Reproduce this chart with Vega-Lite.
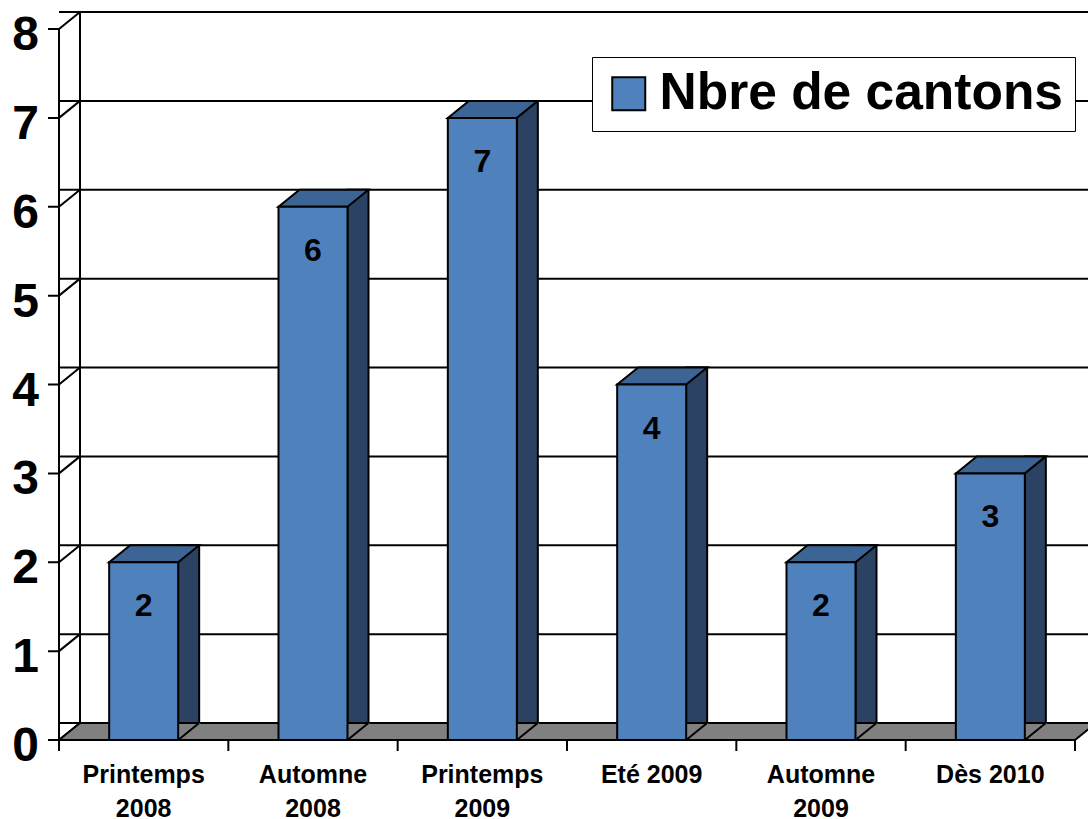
{
  "$schema": "https://vega.github.io/schema/vega-lite/v6.json",
  "width": 1016,
  "height": 711,
  "autosize": "none",
  "padding": {"left": 59, "top": 29, "right": 13, "bottom": 79},
  "background": "white",
  "config": {
    "view": {"stroke": null},
    "font": "Liberation Sans"
  },
  "datasets": {
    "graduations": [{"v": 0}, {"v": 1}, {"v": 2}, {"v": 3}, {"v": 4}, {"v": 5}, {"v": 6}, {"v": 7}, {"v": 8}]
  },
  "data": {
    "values": [
      {"periode": "Printemps 2008", "cantons": 2, "ligne1": "Printemps", "ligne2": "2008"},
      {"periode": "Automne 2008", "cantons": 6, "ligne1": "Automne", "ligne2": "2008"},
      {"periode": "Printemps 2009", "cantons": 7, "ligne1": "Printemps", "ligne2": "2009"},
      {"periode": "Eté 2009", "cantons": 4, "ligne1": "Eté 2009", "ligne2": ""},
      {"periode": "Automne 2009", "cantons": 2, "ligne1": "Automne", "ligne2": "2009"},
      {"periode": "Dès 2010", "cantons": 3, "ligne1": "Dès 2010", "ligne2": ""}
    ]
  },
  "layer": [
    {
      "mark": {"type": "bar", "width": {"band": 0.4075}, "opacity": 0},
      "encoding": {
        "x": {
          "field": "periode", "type": "nominal", "axis": null,
          "scale": {"domain": ["Printemps 2008", "Automne 2008", "Printemps 2009", "Eté 2009", "Automne 2009", "Dès 2010"], "paddingInner": 0, "paddingOuter": 0}
        },
        "y": {
          "field": "cantons", "type": "quantitative", "axis": null,
          "scale": {"domain": [0, 8], "nice": false}
        }
      }
    },
    {
      "data": {"name": "graduations"},
      "mark": {"type": "rule", "color": "black", "strokeWidth": 2, "xOffset": 21, "x2Offset": 21, "yOffset": -17},
      "encoding": {
        "y": {"field": "v", "type": "quantitative", "axis": null}
      }
    },
    {
      "data": {"values": [{"k": 1}]},
      "mark": {"type": "rule", "color": "black", "strokeWidth": 2, "xOffset": 21, "yOffset": -17, "y2Offset": -17},
      "encoding": {
        "x": {"datum": "Printemps 2008", "type": "nominal", "bandPosition": 0, "axis": null},
        "y": {"datum": 0, "type": "quantitative", "axis": null},
        "y2": {"datum": 8}
      }
    },
    {
      "data": {"values": [{"k": 1}]},
      "mark": {"type": "rule", "color": "black", "strokeWidth": 2},
      "encoding": {
        "x": {"datum": "Printemps 2008", "type": "nominal", "bandPosition": 0, "axis": null},
        "y": {"datum": 0, "type": "quantitative", "axis": null},
        "y2": {"datum": 8}
      }
    },
    {
      "data": {"name": "graduations"},
      "mark": {"type": "point", "shape": "M-11,0L0,0L21,-17", "size": 4, "filled": false, "stroke": "black", "strokeWidth": 2, "opacity": 1},
      "encoding": {
        "x": {"datum": "Printemps 2008", "type": "nominal", "bandPosition": 0, "axis": null},
        "y": {"field": "v", "type": "quantitative", "axis": null}
      }
    },
    {
      "data": {"name": "graduations"},
      "mark": {"type": "text", "fontSize": 48, "fontWeight": "bold", "font": "Liberation Sans", "color": "black", "align": "right", "baseline": "alphabetic", "dx": -20, "dy": 21},
      "encoding": {
        "x": {"datum": "Printemps 2008", "type": "nominal", "bandPosition": 0, "axis": null},
        "y": {"field": "v", "type": "quantitative", "axis": null},
        "text": {"field": "v", "type": "quantitative"}
      }
    },
    {
      "data": {"values": [{"k": 1}]},
      "mark": {"type": "point", "shape": "M0,0L1016,0L1037,-17L21,-17Z", "size": 4, "filled": true, "fill": "#808080", "stroke": "black", "strokeWidth": 2, "opacity": 1},
      "encoding": {
        "x": {"datum": "Printemps 2008", "type": "nominal", "bandPosition": 0, "axis": null},
        "y": {"datum": 0, "type": "quantitative", "axis": null}
      }
    },
    {
      "mark": {"type": "point", "shape": "M0,0L0,11", "size": 4, "filled": false, "stroke": "black", "strokeWidth": 2, "opacity": 1},
      "encoding": {
        "x": {"field": "periode", "type": "nominal", "bandPosition": 0, "axis": null},
        "y": {"datum": 0, "type": "quantitative", "axis": null}
      }
    },
    {
      "data": {"values": [{"k": 1}]},
      "mark": {"type": "point", "shape": "M0,0L0,11", "size": 4, "filled": false, "stroke": "black", "strokeWidth": 2, "opacity": 1},
      "encoding": {
        "x": {"datum": "Dès 2010", "type": "nominal", "bandPosition": 1, "axis": null},
        "y": {"datum": 0, "type": "quantitative", "axis": null}
      }
    },
    {
      "mark": {"type": "text", "fontSize": 25, "fontWeight": "bold", "font": "Liberation Sans", "color": "black", "align": "center", "baseline": "alphabetic", "dy": 43},
      "encoding": {
        "x": {"field": "periode", "type": "nominal", "axis": null},
        "y": {"datum": 0, "type": "quantitative", "axis": null},
        "text": {"field": "ligne1", "type": "nominal"}
      }
    },
    {
      "mark": {"type": "text", "fontSize": 25, "fontWeight": "bold", "font": "Liberation Sans", "color": "black", "align": "center", "baseline": "alphabetic", "dy": 77},
      "encoding": {
        "x": {"field": "periode", "type": "nominal", "axis": null},
        "y": {"datum": 0, "type": "quantitative", "axis": null},
        "text": {"field": "ligne2", "type": "nominal"}
      }
    },
    {
      "mark": {"type": "bar", "width": 21, "xOffset": 45, "yOffset": -17, "fill": "#2B4263", "stroke": "black", "strokeWidth": 2},
      "encoding": {
        "x": {"field": "periode", "type": "nominal", "axis": null},
        "y": {"field": "cantons", "type": "quantitative", "axis": null}
      }
    },
    {
      "mark": {"type": "point", "shape": "M34.5,-1L55.5,-17L56.5,-17L56.5,-1Z", "size": 4, "filled": true, "fill": "#808080", "strokeOpacity": 0, "opacity": 1},
      "encoding": {
        "x": {"field": "periode", "type": "nominal", "axis": null},
        "y": {"datum": 0, "type": "quantitative", "axis": null}
      }
    },
    {
      "mark": {"type": "point", "shape": "M34.5,0L55.5,-17", "size": 4, "filled": false, "stroke": "black", "strokeWidth": 2, "opacity": 1},
      "encoding": {
        "x": {"field": "periode", "type": "nominal", "axis": null},
        "y": {"datum": 0, "type": "quantitative", "axis": null}
      }
    },
    {
      "mark": {"type": "point", "shape": "M-34.5,0L34.5,0L55.5,-17L-13.5,-17Z", "size": 4, "filled": true, "fill": "#3C6494", "stroke": "black", "strokeWidth": 2, "opacity": 1},
      "encoding": {
        "x": {"field": "periode", "type": "nominal", "axis": null},
        "y": {"field": "cantons", "type": "quantitative", "axis": null}
      }
    },
    {
      "mark": {"type": "bar", "width": {"band": 0.4075}, "stroke": "black", "strokeWidth": 2},
      "encoding": {
        "x": {"field": "periode", "type": "nominal", "axis": null},
        "y": {"field": "cantons", "type": "quantitative", "axis": null},
        "color": {
          "datum": "Nbre de cantons", "type": "nominal",
          "scale": {"range": ["#4F81BD"]},
          "legend": {
            "title": null,
            "orient": "none",
            "legendX": 533,
            "legendY": 28,
            "fillColor": "white",
            "strokeColor": "black",
            "padding": 11,
            "symbolType": "square",
            "symbolSize": 1089,
            "symbolStrokeColor": "black",
            "symbolStrokeWidth": 2,
            "symbolOpacity": 1,
            "labelFontSize": 51.5,
            "labelFont": "Liberation Sans",
            "labelFontWeight": "bold",
            "labelColor": "black",
            "labelOffset": 5,
            "labelLimit": 800
          }
        }
      }
    },
    {
      "mark": {"type": "text", "fontSize": 32, "fontWeight": "bold", "font": "Liberation Sans", "color": "black", "baseline": "alphabetic", "dy": 54},
      "encoding": {
        "x": {"field": "periode", "type": "nominal", "axis": null},
        "y": {"field": "cantons", "type": "quantitative", "axis": null},
        "text": {"field": "cantons", "type": "quantitative"}
      }
    }
  ]
}
